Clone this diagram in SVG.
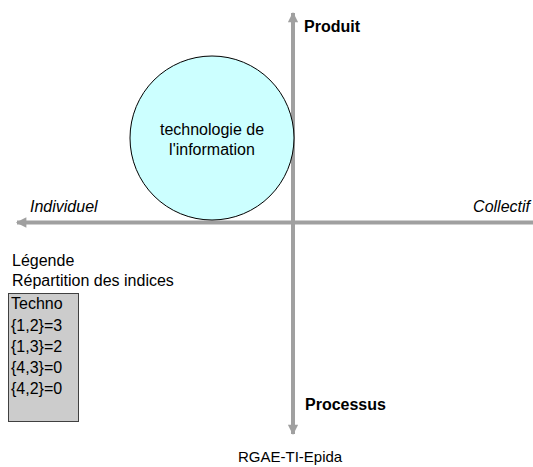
<svg xmlns="http://www.w3.org/2000/svg" width="533" height="467" viewBox="0 0 533 467">
<style>
text{font-family:"Liberation Sans",Arial,sans-serif;font-size:16px;fill:#000}
.b{font-weight:bold}
.i{font-style:italic}
.axis{stroke:#a0a0a0;stroke-width:4;fill:none}
</style>
<defs>
<marker id="ah" viewBox="0 0 10 10" refX="9" refY="5" markerWidth="3" markerHeight="2.6" orient="auto" markerUnits="strokeWidth">
<path d="M0,0 L10,5 L0,10 z" fill="#a0a0a0"/>
</marker>
</defs>
<rect width="533" height="467" fill="#fff"/>
<g id="connectors">
<line class="axis" x1="533" y1="222.5" x2="17" y2="222.5" marker-end="url(#ah)"/>
<line class="axis" x1="293" y1="222" x2="293" y2="13" marker-end="url(#ah)"/>
<line class="axis" x1="293" y1="222" x2="293" y2="434" marker-end="url(#ah)"/>
</g>
<g id="node-circle">
<circle cx="212" cy="138" r="82" fill="#ccffff" stroke="#000" stroke-width="1"/>
<text x="212" y="135" text-anchor="middle">technologie de</text>
<text x="212" y="155" text-anchor="middle">l'information</text>
</g>
<g id="label-produit"><text class="b" x="304" y="32">Produit</text></g>
<g id="label-processus"><text class="b" x="305" y="410">Processus</text></g>
<g id="label-individuel"><text class="i" x="30" y="212">Individuel</text></g>
<g id="label-collectif"><text class="i" x="530" y="212" text-anchor="end">Collectif</text></g>
<g id="footer"><text x="238" y="462" style="font-size:15px">RGAE-TI-Epida</text></g>
<g id="legend">
<text x="12" y="266">Légende</text>
<text x="12" y="286">Répartition des indices</text>
<rect x="8.5" y="293.5" width="70" height="128" fill="#cccccc" stroke="#404040" stroke-width="1"/>
<text x="11" y="309">Techno</text>
<text x="11" y="331">{1,2}=3</text>
<text x="11" y="352">{1,3}=2</text>
<text x="11" y="373">{4,3}=0</text>
<text x="11" y="394">{4,2}=0</text>
</g>
</svg>
